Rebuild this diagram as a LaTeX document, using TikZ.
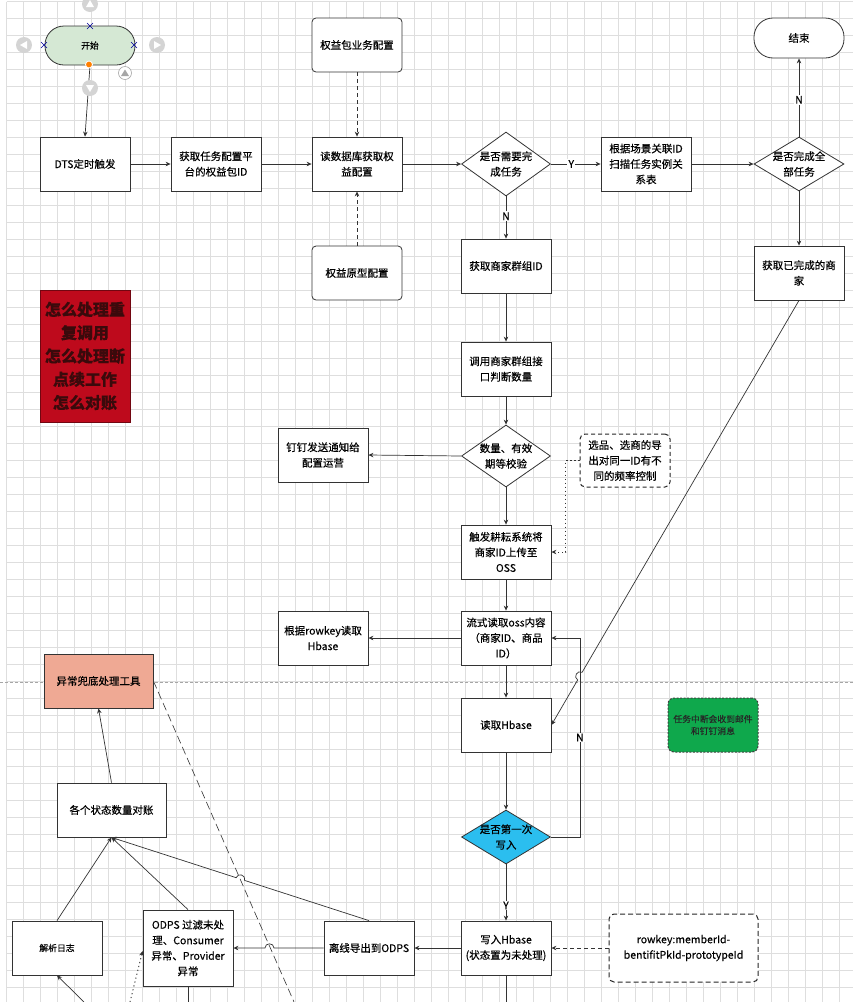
\documentclass[tikz,border=0pt]{standalone}
\usepackage{fontspec}
\setmainfont{Noto Sans CJK SC}[FakeBold=0.35]
\usetikzlibrary{arrows.meta,shapes.geometric,calc}

\definecolor{startgreen}{HTML}{D5E8D4}
\definecolor{alarmred}{HTML}{BE0A1C}
\definecolor{alarmtext}{HTML}{3A0A0C}
\definecolor{salmon}{HTML}{EFA994}
\definecolor{firstcyan}{HTML}{2BBEEF}
\definecolor{notegreen}{HTML}{0FA84C}
\definecolor{gridgray}{HTML}{DEDEDE}
\definecolor{linegray}{HTML}{333333}

\newcommand\fntbox{\fontsize{10.5}{15.5}\selectfont}
\newcommand\fntsmall{\fontsize{8.8}{12}\selectfont}
\newcommand\fntbig{\fontsize{16}{23.3}\selectfont}

\tikzset{
  proc/.style={draw=linegray, fill=white, line width=0.8pt, minimum width=90pt, minimum height=54pt, align=center, font=\fntbox, inner sep=2pt},
  cfg/.style={proc, rounded corners=4pt},
  term/.style={proc, rounded corners=19pt, minimum height=40pt},
  dec/.style={diamond, draw=linegray, fill=white, line width=0.8pt, minimum width=89pt, minimum height=54pt, inner sep=0pt},
  dlbl/.style={align=center, font=\fntbox, inner sep=0pt},
  note/.style={proc, draw=black!85, line width=1pt, rounded corners=5pt, dash pattern=on 4pt off 3pt},
  flow/.style={draw=linegray, line width=0.7pt, -{Stealth[length=5pt,width=4.5pt]}},
  ref/.style={flow, dash pattern=on 4pt off 3pt},
  yn/.style={fill=white, font=\fntbox, inner sep=1pt},
  hop/.style={bend right=90, looseness=1.6},
  gridline/.style={draw=gridgray, line width=0.6pt}
}

\begin{document}
\begin{tikzpicture}[x=1pt,y=-1pt]
\useasboundingbox (0,0) rectangle (853,1002);
\clip (0,0) rectangle (853,1002);
\fill[white] (0,0) rectangle (853,1002);

%grid
\foreach \i in {0,...,49}
  \draw[gridline] ({6.7+17*\i},1.7) -- ({6.7+17*\i},1002);
\foreach \j in {0,...,58}
  \draw[gridline] (6.7,{1.7+17*\j}) -- (853,{1.7+17*\j});
%page break
\draw[gray!70, line width=0.6pt, dash pattern=on 3pt off 2pt] (0,682) -- (853,682);

%start and end
\node[term, fill=startgreen, minimum height=39pt, font=\fntsmall] (start) at (90,45.5) {开始};
\node[term] (finish) at (799,38) {结束};

%top row
\node[proc] (dts) at (85,164) {DTS定时触发};
\node[proc] (fetch) at (216,164) {获取任务配置平\\台的权益包ID};
\node[proc] (readdb) at (357,164) {读数据库获取权\\益配置};
\node[cfg] (pkgcfg) at (357,45) {权益包业务配置};
\node[cfg] (protocfg) at (357,273) {权益原型配置};
\node[dec, minimum height=64pt, label={[dlbl]center:{是否需要完\\成任务}}] (needtask) at (506,164) {};
\node[proc] (scan) at (646,164) {根据场景关联ID\\扫描任务实例关\\系表};
\node[dec, minimum width=90pt, label={[dlbl]center:{是否完成全\\部任务}}] (alldone) at (799,164) {};
\node[proc] (done) at (799,273) {获取已完成的商\\家};

%questions
\node[proc, fill=alarmred, draw=alarmred!60!black, minimum height=132pt, font=\fntbig\bfseries, text=alarmtext] (question) at (85,356) {怎么处理重\\复调用\\怎么处理断\\点续工作\\怎么对账};

%main column
\node[proc] (group) at (506,266) {获取商家群组ID};
\node[proc] (callgroup) at (506,369) {调用商家群组接\\口判断数量};
\node[dec, minimum height=62pt, label={[dlbl]center:{数量、有效\\期等校验}}] (check) at (506,456) {};
\node[proc] (notify) at (323,455) {钉钉发送通知给\\配置运营};
\node[note, minimum height=53pt] (freq) at (625,460.5) {选品、选商的导\\出对同一ID有不\\同的频率控制};
\node[proc] (upload) at (506,552) {触发耕耘系统将\\商家ID上传至\\OSS};
\node[proc] (stream) at (506,638) {流式读取oss内容\\（商家ID、商品\\ID）};
\node[proc] (rowread) at (323,638) {根据rowkey读取\\Hbase};
\node[proc] (rdh) at (506,725) {读取Hbase};
\node[proc, rounded corners=6pt, fill=notegreen, draw=black!75, line width=1pt, dash pattern=on 2pt off 1.5pt, font=\fntsmall, text=black!85] (alert) at (713,725) {任务中断会收到邮件\\和钉钉消息};
\node[dec, fill=firstcyan, label={[dlbl]center:{是否第一次\\写入}}] (first) at (506,837) {};
\node[proc] (write) at (506,948) {写入Hbase\\(状态置为未处理)};
\node[note, minimum width=149pt, minimum height=68pt, dash pattern=on 5pt off 3pt] (rowkey) at (683.5,948) {rowkey:memberId-\\bentifitPkId-prototypeId};

%reconciliation
\node[proc, fill=salmon, minimum width=109pt] (tool) at (98.5,681) {异常兜底处理工具};
\node[proc, minimum width=109pt] (tally) at (111.5,810) {各个状态数量对账};
\node[proc, font=\fntsmall] (log) at (57,948) {解析日志};
\node[proc, minimum height=76pt] (odps) at (188,948) {ODPS 过滤未处\\理、Consumer\\异常、Provider\\异常};
\node[proc] (off) at (369,948) {离线导出到ODPS};

%loose ends at the bottom
\coordinate (writeout) at (506,1002);
\coordinate (odpsout) at (188,1002);
\coordinate (toolout) at (294,1002);
\coordinate (dotin) at (130,1002);
\coordinate (login) at (84,1002);

%connectors
\draw[flow] (start.south) -- (dts.north);
\draw[flow] (dts.east) -- (fetch.west);
\draw[flow] (fetch.east) -- (readdb.west);
\draw[ref] (pkgcfg.south) -- (readdb.north);
\draw[ref] (protocfg.north) -- (readdb.south);
\draw[flow] (readdb.east) -- (needtask.west);
\draw[flow] (needtask.east) -- node[yn, pos=0.41]{Y} (scan.west);
\draw[flow] (scan.east) -- (alldone.west);
\draw[flow] (alldone.north) -- node[yn, pos=0.47]{N} (finish.south);
\draw[flow] (alldone.south) -- (done.north);
\draw[flow] (needtask.south) -- node[yn, pos=0.47]{N} (group.north);
\draw[flow] (group.south) -- (callgroup.north);
\draw[flow] (callgroup.south) -- (check.north);
\draw[flow] (check.west) -- (notify.east);
\draw[flow] (check.south) -- (upload.north);
\draw[flow, line width=0.8pt, dash pattern=on 1.5pt off 2.5pt] (freq.west) -- ++(-14,0) |- (upload.east);
\draw[flow] (upload.south) -- (stream.north);
\draw[flow] (stream.west) -- (rowread.east);
\draw[flow] (stream.south) -- (rdh.north);
\draw[flow] (rdh.south) -- (first.north);
\draw[flow] (first.east) -- ++(29,0) |- node[yn, pos=0.25]{N} (stream.east);
\draw[flow] (done.south) -- ($(done.south)!0.876!(rdh.east)$) to[hop] ($(done.south)!0.894!(rdh.east)$) -- (rdh.east);
\draw[flow] (first.south) -- node[yn, pos=0.73]{Y} (write.north);
\draw[ref] (rowkey.west) -- (write.east);
\draw[flow] (write.west) -- (off.east);
\draw[draw=linegray, line width=0.7pt] (write.south) -- (writeout);
\draw[draw=linegray, line width=0.6pt, dash pattern=on 8pt off 4pt] (tool.east) -- (toolout);
\draw[flow] (off.west) -- ($(off.west)!0.55!(odps.east)$) to[hop] ($(off.west)!0.65!(odps.east)$) -- (odps.east);
\draw[flow] (off.north) -- ($(off.north)!0.483!(tally.south)$) to[hop] ($(off.north)!0.516!(tally.south)$) -- (tally.south);
\draw[flow] (odps.north) -- (tally.south);
\draw[flow] (log.north) -- (tally.south);
\draw[flow] (tally.north) -- (tool.south);
\draw[draw=linegray, line width=0.7pt] (odps.south) -- (odpsout);
\draw[flow, line width=0.9pt, dash pattern=on 1.2pt off 2.8pt] (dotin) -- ([yshift=-3pt]odps.west);
\draw[flow] (login) -- (log.south);

%selection handles round start
\fill[black!17] (90,4) circle (8) (24,45) circle (8) (157,45) circle (8) (90,88) circle (8);
\fill[white] (90,0) -- (94,7) -- (86,7) -- cycle;
\fill[white] (20,45) -- (27,41) -- (27,49) -- cycle;
\fill[white] (161,45) -- (154,41) -- (154,49) -- cycle;
\fill[white] (90,92) -- (94,85) -- (86,85) -- cycle;
\draw[black!35, fill=white, line width=0.6pt] (125,73) circle (6.5);
\fill[black!35] (125,69.5) -- (129,76) -- (121,76) -- cycle;
\foreach \px/\py in {90/26,44/45,134/45}
  \draw[blue!60!black, line width=0.6pt] (\px-3,\py-3) -- (\px+3,\py+3) (\px-3,\py+3) -- (\px+3,\py-3);
\draw[white, fill=orange, line width=0.8pt] (89,64.5) circle (3.5);

\end{tikzpicture}
\end{document}
